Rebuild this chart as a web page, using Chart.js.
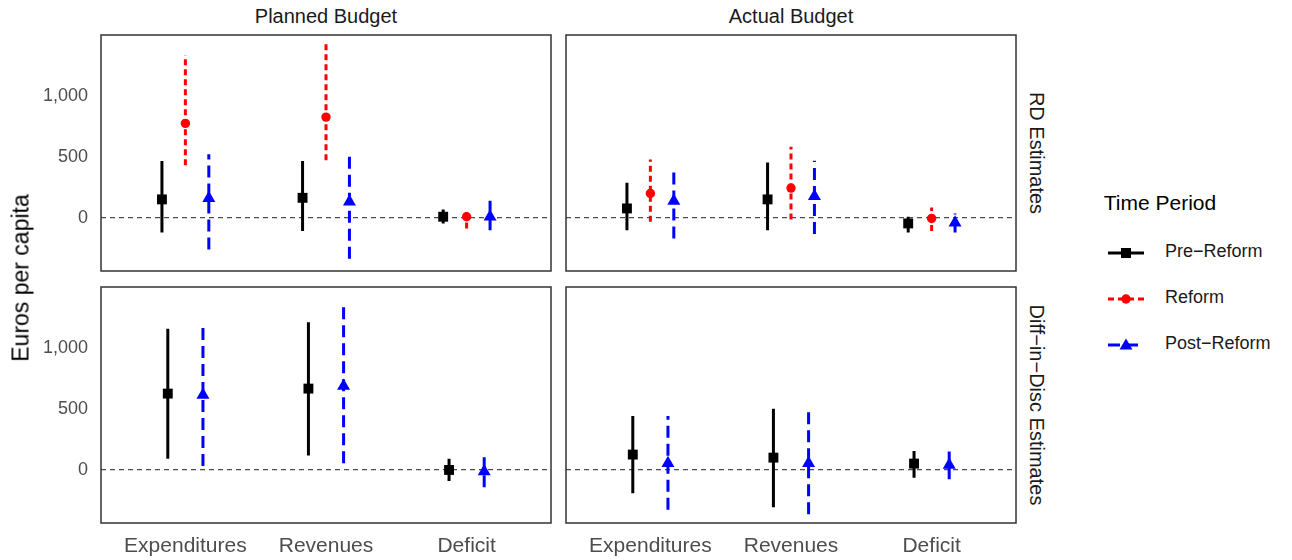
<!DOCTYPE html>
<html>
<head>
<meta charset="utf-8">
<script src="https://cdn.jsdelivr.net/npm/chart.js@4.4.1/dist/chart.umd.min.js"></script>
<style>
  body { margin: 0; background: #fff; font-family: "Liberation Sans", Arial, sans-serif; }
  #wrap { position: relative; width: 1292px; height: 560px; overflow: hidden; }
  .cv { position: absolute; }
  .txt { position: absolute; white-space: nowrap; transform: translate(-50%, -50%); }
  .rot { transform: translate(-50%, -50%) rotate(90deg); }
  .rotl { transform: translate(-50%, -50%) rotate(-90deg); }
  .strip { font-size: 20px; color: #1a1a1a; }
  .leg { position: absolute; left: 1106px; width: 190px; height: 24px; }
  .leg svg { position: absolute; left: 0; top: 2px; }
  .leg span { position: absolute; left: 59px; top: 0; font-size: 18px; line-height: 24px; color: #1a1a1a; }
</style>
</head>
<body>
<div id="wrap">
  <div class="cv" style="left:0;top:34px;width:552px;height:238px"><canvas id="pRd" width="552" height="238"></canvas></div>
  <div class="cv" style="left:565px;top:34px;width:452px;height:238px"><canvas id="aRd" width="452" height="238"></canvas></div>
  <div class="cv" style="left:0;top:286px;width:552px;height:274px"><canvas id="pDid" width="552" height="274"></canvas></div>
  <div class="cv" style="left:565px;top:286px;width:452px;height:274px"><canvas id="aDid" width="452" height="274"></canvas></div>

  <div class="txt strip" style="left:326px;top:16px">Planned Budget</div>
  <div class="txt strip" style="left:791px;top:16px">Actual Budget</div>
  <div class="txt strip rot" style="left:1036px;top:153px">RD Estimates</div>
  <div class="txt strip rot" style="left:1036px;top:405px">Diff−in−Disc Estimates</div>
  <div class="txt rotl" style="left:21px;top:278px;font-size:23px;color:#000">Euros per capita</div>

  <div class="txt" style="left:1160px;top:203px;font-size:21px;color:#000">Time Period</div>
  <div id="legend"></div>
</div>
<script>
// categories and groups
const categories = ['Expenditures', 'Revenues', 'Deficit'];
const periods = ['Pre−Reform', 'Reform', 'Post−Reform'];
const yTicks = [0, 500, 1000];

// [estimate, lower, upper] per category
const plannedRdPre    = [[149, -122, 463], [162, -111, 463], [7, -48, 67]];
const plannedRdReform = [[772, 430, 1332], [824, 471, 1422], [7, -89, 59]];
const plannedRdPost   = [[158, -261, 520], [130, -337, 540], [7, -103, 138]];

const actualRdPre    = [[75, -103, 286], [149, -103, 452], [-48, -122, 7]];
const actualRdReform = [[198, -34, 477], [242, -15, 581], [-7, -111, 83]];
const actualRdPost   = [[135, -171, 409], [175, -135, 466], [-43, -122, 34]];

const plannedDidPre  = [[623, 88, 1154], [664, 115, 1209], [-3, -93, 88]];
const plannedDidPost = [[612, 30, 1209], [686, 52, 1332], [-16, -144, 129]];

const actualDidPre  = [[123, -194, 440], [98, -308, 498], [49, -66, 153]];
const actualDidPost = [[52, -330, 440], [52, -366, 479], [38, -79, 148]];

const styles = [
  { color: '#000000', dash: [], point: 'rect', radius: 7 },
  { color: '#ff0000', dash: [6, 4], point: 'circle', radius: 4.7 },
  { color: '#0000ff', dash: [12, 6], point: 'triangle', radius: 7.5 }
];

const fontFam = '"Liberation Sans", Arial, sans-serif';

const panelBorder = {
  id: 'panelBorder',
  afterDatasetsDraw(chart) {
    const { ctx, chartArea: a } = chart;
    ctx.save();
    ctx.strokeStyle = '#333333';
    ctx.lineWidth = 1.5;
    ctx.strokeRect(a.left, a.top, a.right - a.left, a.bottom - a.top);
    ctx.restore();
  }
};

function makePanel(id, groups, showY, showX) {
  // groups: array of [periodIndex, data]
  const n = groups.length;
  const offsets = n === 3 ? [-1 / 6, 0, 1 / 6] : [-0.125, 0.125];
  const datasets = [{
    type: 'line',
    data: [{ x: 0.4, y: 0 }, { x: 3.6, y: 0 }],
    borderColor: '#4d4d4d', borderWidth: 1.2, borderDash: [5, 4],
    pointRadius: 0, order: 3
  }];
  groups.forEach(([p, vals], g) => {
    const st = styles[p];
    const bars = [];
    const pts = [];
    vals.forEach((v, i) => {
      const x = i + 1 + offsets[g];
      bars.push({ x, y: v[1] }, { x, y: v[2] }, { x, y: null });
      pts.push({ x, y: v[0] });
    });
    datasets.push({
      type: 'line', label: periods[p], data: bars,
      borderColor: st.color, borderWidth: 3, borderDash: st.dash, borderCapStyle: 'butt',
      pointRadius: 0, spanGaps: false, order: 2
    });
    datasets.push({
      type: 'scatter', label: periods[p], data: pts,
      pointStyle: st.point, pointRadius: st.radius,
      backgroundColor: st.color, borderColor: st.color, borderWidth: 0, order: 1
    });
  });

  new Chart(document.getElementById(id), {
    type: 'scatter',
    data: { datasets },
    plugins: [panelBorder],
    options: {
      responsive: false,
      maintainAspectRatio: false,
      animation: false,
      devicePixelRatio: 1,
      layout: {
        autoPadding: false,
        padding: { top: 1, right: 1, left: showY ? 0 : 1, bottom: showX ? 0 : 1 }
      },
      plugins: { legend: { display: false }, tooltip: { enabled: false } },
      scales: {
        x: {
          type: 'linear', min: 0.4, max: 3.6, display: showX,
          grid: { display: false, drawTicks: false }, border: { display: false },
          afterBuildTicks: s => { s.ticks = categories.map((c, i) => ({ value: i + 1 })); },
          afterFit: s => {
            s.height = showX ? 37 : 0;
            s.paddingLeft = 0; s.paddingRight = 0;
          },
          ticks: {
            padding: 11, color: '#4d4d4d', maxRotation: 0, autoSkip: false,
            font: { family: fontFam, size: 21 },
            callback: v => categories[Math.round(v) - 1]
          }
        },
        y: {
          min: -438, max: 1497, display: showY,
          grid: { display: false, drawTicks: false }, border: { display: false },
          afterBuildTicks: s => { s.ticks = yTicks.map(v => ({ value: v })); },
          afterFit: s => {
            s.width = showY ? 101 : 0;
            s.paddingTop = 0; s.paddingBottom = 0;
          },
          ticks: {
            padding: 13, color: '#4d4d4d',
            font: { family: fontFam, size: 18 },
            callback: v => v.toLocaleString('en-US')
          }
        }
      }
    }
  });
}

makePanel('pRd', [[0, plannedRdPre], [1, plannedRdReform], [2, plannedRdPost]], true, false);
makePanel('aRd', [[0, actualRdPre], [1, actualRdReform], [2, actualRdPost]], false, false);
makePanel('pDid', [[0, plannedDidPre], [2, plannedDidPost]], true, true);
makePanel('aDid', [[0, actualDidPre], [2, actualDidPost]], false, true);

// legend keys
const legendTops = [239, 285, 331];
const markers = [
  '<rect x="15" y="7" width="10" height="10" fill="#000"/>',
  '<circle cx="20" cy="12" r="4.7" fill="#ff0000"/>',
  '<polygon points="20,5.5 26.5,16.5 13.5,16.5" fill="#0000ff"/>'
];
const legend = document.getElementById('legend');
periods.forEach((p, i) => {
  const st = styles[i];
  const div = document.createElement('div');
  div.className = 'leg';
  div.style.top = legendTops[i] + 'px';
  div.innerHTML =
    '<svg width="40" height="22"><line x1="2" y1="12" x2="38" y2="12" stroke="' + st.color +
    '" stroke-width="3" stroke-dasharray="' + (st.dash.length ? st.dash.join(',') : 'none') + '"/>' +
    markers[i] + '</svg><span>' + p + '</span>';
  legend.appendChild(div);
});
</script>
</body>
</html>
